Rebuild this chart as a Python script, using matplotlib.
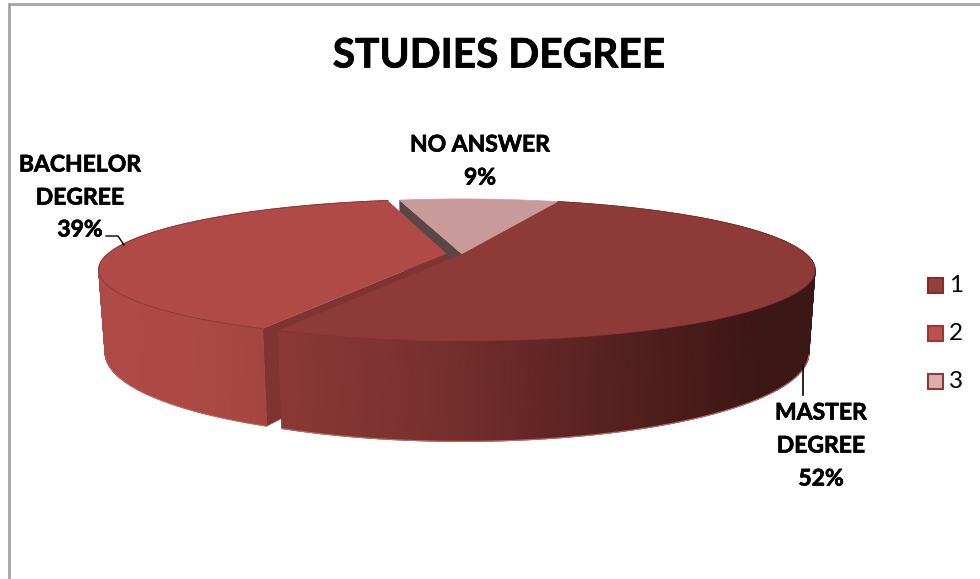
import numpy as np
import matplotlib.pyplot as plt
import matplotlib.patheffects as pe
from matplotlib.colors import LinearSegmentedColormap
from matplotlib.patches import Rectangle

plt.rcParams["font.family"] = ["Lato", "DejaVu Sans"]

# chart data
label_lines = [["MASTER", "DEGREE"], ["BACHELOR", "DEGREE"], ["NO ANSWER"]]
values = [51.5, 39.45, 9.05]
shown_pct = ["52%", "39%", "9%"]
legend_names = ["1", "2", "3"]
explode = [0.0, 0.045, 0.0]
radius = [1.0, 0.985, 1.0]
top_colors = ["#8E3A38", "#B04A46", "#C89B9A"]
legend_fill = ["#953F3D", "#C0504D", "#DBAFAE"]
legend_edge = ["#7D2F2D", "#8E3B39", "#8E3A38"]

# fake 3d projection of the pie, all in image pixels
CX, CY = 462, 254
RX, RY = 344, 67.4
PERSP = 0.225
DEPTH = 81
DEPTH_PERSP = 0.017
START = 19.8  # master starts here, clockwise from the back


def project(theta, h=0.0, r=1.0, shift=(0.0, 0.0)):
    t = np.radians(theta)
    u = r * np.sin(t) + shift[0]
    v = -r * np.cos(t) + shift[1]
    s = 1 / (1 - PERSP * v + DEPTH_PERSP * h)
    return CX + RX * u * s, CY + (RY * v + DEPTH * h) * s


def wedge_outline(a0, a1, r, shift):
    x, y = project(np.linspace(a0, a1, 120), r=r, shift=shift)
    ax0, ay0 = project(0, r=0, shift=shift)
    return np.r_[ax0, x], np.r_[ay0, y]


def side_wall(ax, a0, a1, r, shift, cmap, xlo, xhi, zorder):
    th = np.linspace(a0, a1, 160)
    xt, yt = project(th, 0, r=r, shift=shift)
    xb, yb = project(th, 1, r=r, shift=shift)
    ax.pcolormesh(np.vstack([xt, xb]), np.vstack([yt, yb]), np.vstack([xt, xb]),
                  cmap=cmap, vmin=xlo, vmax=xhi, shading="gouraud", zorder=zorder)


def cut_face(ax, theta, r, shift, color, zorder):
    x0, y0 = project(0, 0, r=0, shift=shift)
    x1, y1 = project(theta, 0, r=r, shift=shift)
    x2, y2 = project(theta, 1, r=r, shift=shift)
    x3, y3 = project(0, 1, r=0, shift=shift)
    ax.fill([x0, x1, x2, x3], [y0, y1, y2, y3], color=color, lw=0.3, zorder=zorder)


def bold_text(x, y, s, size):
    ax.text(x, y, s, ha="center", va="center", fontsize=size, fontweight="bold",
            color="black", zorder=6,
            path_effects=[pe.withStroke(linewidth=0.5, foreground="black")])


fig = plt.figure(figsize=(9.8, 5.79), dpi=100)
ax = fig.add_axes([0, 0, 1, 1])
ax.set_xlim(0, 980)
ax.set_ylim(579, 0)
ax.axis("off")

# chart frame, runs off the crop on right and bottom
ax.plot([9, 9, 980], [579, 4, 4], color="#A3A3A3", lw=2, solid_joinstyle="miter")

bold_text(499, 56, "STUDIES DEGREE", 29.3)

# slice angles, clockwise
sweeps = np.array(values) / sum(values) * 360
m0, m1 = START, START + sweeps[0]
b0, b1 = m1, m1 + sweeps[1]
n0, n1 = b1, b1 + sweeps[2]

mid_b = np.radians((b0 + b1) / 2)
shift_b = (explode[1] * np.sin(mid_b), -explode[1] * np.cos(mid_b))

# no answer goes first, it sits at the back
cut_face(ax, n0, radius[2], (0, 0), "#5A4644", 1)
x, y = wedge_outline(n0, n1, radius[2], (0, 0))
ax.fill(x, y, color=top_colors[2], lw=0.5, zorder=1.5)

# bachelor
cut_face(ax, b0, radius[1], shift_b, "#7F3432", 2)
bach_cmap = LinearSegmentedColormap.from_list("b", ["#AE4A46", "#AC4945", "#A44542"])
side_wall(ax, b0, b1, radius[1], shift_b, bach_cmap, 100, 270, 2.1)
x, y = wedge_outline(b0, b1, radius[1], shift_b)
ax.fill(x, y, color=top_colors[1], lw=0, zorder=3)
th = np.linspace(b0, b1, 120)
ax.plot(*project(th, r=radius[1], shift=shift_b), color="#8E3A38", lw=0.7, zorder=3.1)
ax.plot(*project(th[th < 256], 1, r=radius[1], shift=shift_b), color="#C06A66", lw=0.6, zorder=3.1)

# master, in front of the others
mast_cmap = LinearSegmentedColormap.from_list(
    "m", [(0, "#8A3835"), (0.25, "#7A322F"), (0.5, "#612624"), (0.75, "#4A1C1A"),
          (0.9, "#3B1715"), (1, "#3B1715")])
side_wall(ax, m0, m1, radius[0], (0, 0), mast_cmap, 287, 817, 3.5)
ax.plot(*project(np.linspace(104, m1, 150), 1), color="#C06A66", lw=0.8, zorder=3.6)
x, y = wedge_outline(m0, m1, radius[0], (0, 0))
ax.fill(x, y, color=top_colors[0], lw=0, zorder=4)
ax.plot(*project(np.linspace(m0, m1, 150)), color="#85332F", lw=0.6, zorder=4.1)

# data labels with leader lines
ax.plot([803, 803], [365, 395], color="black", lw=1.2, zorder=5)
ax.plot([106, 118, 124], [236, 236, 245], color="black", lw=1.0, zorder=5)
bold_text(821, 413, label_lines[0][0], 16.5)
bold_text(821, 446, label_lines[0][1], 16.5)
bold_text(821, 479, shown_pct[0], 16.5)
bold_text(80, 165, label_lines[1][0], 16.5)
bold_text(80, 198, label_lines[1][1], 16.5)
bold_text(80, 230, shown_pct[1], 16.5)
bold_text(480, 145, label_lines[2][0], 16.5)
bold_text(480, 178, shown_pct[2], 16.5)

# legend
for i, name in enumerate(legend_names):
    top = 278 + i * 48
    ax.add_patch(Rectangle((928, top), 15, 15, facecolor=legend_fill[i],
                           edgecolor=legend_edge[i], lw=1.5))
    ax.text(949, top + 7, name, ha="left", va="center", fontsize=17.5, color="black")

fig.savefig("out.png", dpi=100)
